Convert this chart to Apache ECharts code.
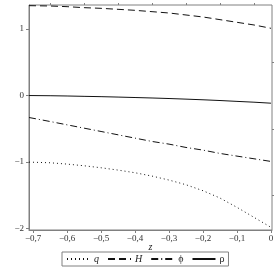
<!DOCTYPE html>
<html><head><meta charset="utf-8">
<script src="https://cdn.jsdelivr.net/npm/echarts@6/dist/echarts.min.js"></script>
<style>html,body{margin:0;padding:0;background:#fff}#c{width:278px;height:278px}</style>
</head><body><div id="c"></div>
<script>
const zVals = [-0.712,-0.65,-0.6,-0.55,-0.5,-0.45,-0.4,-0.35,-0.3,-0.25,-0.2,-0.15,-0.1,-0.05,0];
const qVals = [-1.00,-1.01,-1.03,-1.055,-1.085,-1.12,-1.16,-1.21,-1.27,-1.34,-1.43,-1.54,-1.68,-1.83,-1.98];
const hVals = [1.35,1.345,1.335,1.32,1.31,1.295,1.28,1.26,1.24,1.21,1.18,1.14,1.10,1.06,1.01];
const phiVals = [-0.33,-0.39,-0.44,-0.49,-0.54,-0.59,-0.64,-0.69,-0.73,-0.78,-0.82,-0.87,-0.91,-0.95,-0.99];
const rhoVals = [0.0,-0.003,-0.007,-0.012,-0.017,-0.023,-0.03,-0.037,-0.045,-0.054,-0.064,-0.075,-0.088,-0.10,-0.115];
const xTicks = [-0.7,-0.6,-0.5,-0.4,-0.3,-0.2,-0.1,0];
const xMinor = [-0.65,-0.55,-0.45,-0.35,-0.25,-0.15,-0.05];
const yTicks = [-2,-1,0,1];
const yMinor = [-1.5,-0.5,0.5];
const names = ['q','H','\u03d5','\u03c1'];

const font = 'Liberation Serif';
const axisCol = '#808080';
const pair = v => zVals.map((z,i)=>[z,v[i]]);
const fmt = v => { if (Math.abs(v) < 1e-9) return '0'; return String(Math.round(v*10)/10).replace('.', ',').replace('-', '\u2212'); };

const chart = echarts.init(document.getElementById('c'), null, {renderer:'canvas'});
const baseX = {type:'value', min:-0.712, max:0.003, gridIndex:0};
const baseY = {type:'value', min:-2.02, max:1.36, gridIndex:0};
chart.setOption({
  animation:false,
  grid:{left:29, right:6, top:5, bottom:48, show:true, borderColor:axisCol, borderWidth:1},
  xAxis:[
    Object.assign({}, baseX, {
      name:'z', nameLocation:'middle', nameGap:12, nameMoveOverlap:false,
      nameTextStyle:{fontFamily:font, fontStyle:'italic', fontSize:10, color:'#222'},
      axisLine:{show:true, onZero:false, lineStyle:{color:axisCol}},
      axisTick:{show:true, length:3, customValues:xTicks, lineStyle:{color:axisCol}},
      axisLabel:{customValues:xTicks, formatter:fmt, fontFamily:font, fontSize:9, color:'#333', margin:4},
      splitLine:{show:false}
    }),
    Object.assign({}, baseX, {
      axisLine:{show:false, onZero:false},
      axisTick:{show:true, length:2, customValues:xMinor, lineStyle:{color:axisCol}},
      axisLabel:{show:false, customValues:xMinor},
      splitLine:{show:false}
    })
  ],
  yAxis:[
    Object.assign({}, baseY, {
      axisLine:{show:true, onZero:false, lineStyle:{color:axisCol}},
      axisTick:{show:true, length:3, customValues:yTicks, lineStyle:{color:axisCol}},
      axisLabel:{customValues:yTicks, formatter:fmt, fontFamily:font, fontSize:9, color:'#333', margin:5},
      splitLine:{show:false}
    }),
    Object.assign({}, baseY, {
      axisLine:{show:false, onZero:false},
      axisTick:{show:true, length:2, customValues:yMinor, lineStyle:{color:axisCol}},
      axisLabel:{show:false, customValues:yMinor},
      splitLine:{show:false}
    })
  ],
  legend:{
    left:62, top:252, orient:'horizontal', itemWidth:23, itemHeight:8, itemGap:8,
    padding:[2,4,2,4], borderColor:axisCol, borderWidth:1,
    data:names,
    itemStyle:{opacity:0},
    textStyle:{fontFamily:font, fontSize:10, color:'#222', padding:[0,0,0,-1],
      rich:{i:{fontFamily:font, fontStyle:'italic', fontSize:10, color:'#222'}}},
    formatter: n => (n==='q'||n==='H') ? '{i|'+n+'}' : n
  },
  series:[
    {name:names[0], type:'line', data:pair(qVals), symbol:'none', lineStyle:{color:'#111', width:1, type:[1,3]}, itemStyle:{color:'#111'}},
    {name:names[1], type:'line', data:pair(hVals), symbol:'none', lineStyle:{color:'#111', width:1, type:[7,4]}, itemStyle:{color:'#111'}},
    {name:names[2], type:'line', data:pair(phiVals), symbol:'none', lineStyle:{color:'#111', width:1, type:[7,3,1,3]}, itemStyle:{color:'#111'}},
    {name:names[3], type:'line', data:pair(rhoVals), symbol:'none', lineStyle:{color:'#111', width:1}, itemStyle:{color:'#111'}}
  ]
});
</script></body></html>
